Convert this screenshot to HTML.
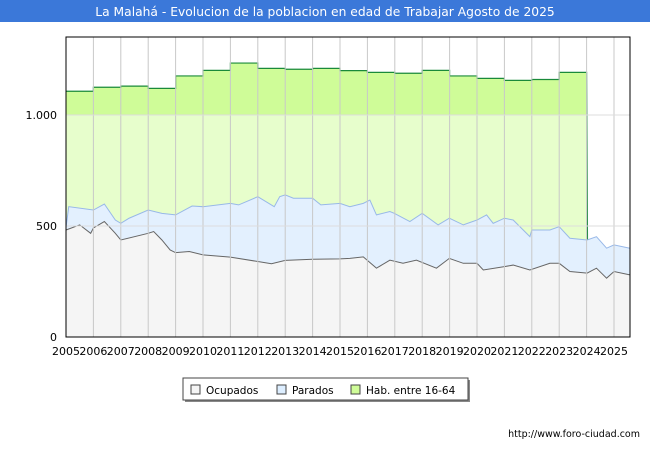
<!DOCTYPE html>
<html><head><meta charset="utf-8"><style>
body{margin:0;width:650px;height:450px;background:#fff;font-family:"DejaVu Sans","Liberation Sans",sans-serif;overflow:hidden}
svg text{font-family:"DejaVu Sans","Liberation Sans",sans-serif}
</style></head><body>
<svg width="650" height="450" xmlns="http://www.w3.org/2000/svg" id="chart">
<rect x="0" y="0" width="650" height="22" fill="#3b78d9"/>
<text x="325" y="16" fill="#fff" font-size="12.3" text-anchor="middle">La Malahá - Evolucion de la poblacion en edad de Trabajar Agosto de 2025</text>
<g id="plot"></g>
<g>
<rect x="185" y="380" width="285" height="22" fill="#888"/>
<rect x="183" y="378" width="285" height="22" fill="#fff" stroke="#444"/>
<rect x="191" y="385" width="9" height="9" fill="#f5f5f5" stroke="#444"/>
<text x="206" y="394" font-size="10.5">Ocupados</text>
<rect x="277" y="385" width="9" height="9" fill="#ddeeff" stroke="#444"/>
<text x="292" y="394" font-size="10.5">Parados</text>
<rect x="351" y="385" width="9" height="9" fill="#cffc98" stroke="#444"/>
<text x="366" y="394" font-size="10.5">Hab. entre 16-64</text>
</g>
<text x="640" y="437" font-size="9.5" text-anchor="end">http://www.foro-ciudad.com</text>
</svg>
<script>
const habYears=[2005,2006,2007,2008,2009,2010,2011,2012,2013,2014,2015,2016,2017,2018,2019,2020,2021,2022,2023];
const habValues=[1107,1125,1130,1120,1176,1201,1234,1210,1206,1210,1200,1192,1188,1201,1176,1165,1156,1160,1192];
const totYears=[2005.0,2005.1,2006.0,2006.4,2006.8,2007.0,2007.3,2008.0,2008.5,2009.0,2009.6,2010.0,2011.0,2011.3,2012.0,2012.6,2012.8,2013.0,2013.3,2014.0,2014.3,2015.0,2015.36,2015.85,2016.09,2016.33,2016.82,2016.98,2017.55,2018.0,2018.58,2018.99,2019.5,2020.0,2020.35,2020.59,2021.0,2021.32,2021.93,2022.0,2022.66,2023.0,2023.39,2024.02,2024.36,2024.73,2025.0,2025.58];
const totValues=[493,587,572,599,527,512,535,572,557,550,590,587,602,595,632,587,632,640,625,625,595,602,587,602,617,550,565,557,520,557,505,535,505,527,550,512,535,527,452,482,482,497,445,437,452,400,415,400];
const ocuYears=[2005.0,2005.5,2005.9,2006.0,2006.4,2006.8,2007.0,2008.0,2008.2,2008.5,2008.8,2009.0,2009.5,2010.0,2011.0,2012.0,2012.5,2013.0,2014.0,2015.0,2015.36,2015.85,2016.33,2016.82,2017.3,2017.79,2018.52,2018.99,2019.5,2020.0,2020.23,2021.0,2021.32,2021.93,2022.66,2023.0,2023.39,2024.02,2024.36,2024.73,2025.0,2025.58];
const ocuValues=[482,505,467,491,520,467,437,467,475,437,392,380,385,370,360,340,330,345,350,352,354,361,310,346,332,346,310,354,332,332,302,317,324,302,332,332,295,288,310,265,295,280];
const yTicks=[0,500,1000];
const yTickLabels=["0","500","1.000"];
const xTicks=[2005,2006,2007,2008,2009,2010,2011,2012,2013,2014,2015,2016,2017,2018,2019,2020,2021,2022,2023,2024,2025];

const L=66,R=630,T=37,B=337,X0=2005,XW=27.4;
const xs=v=>L+(v-X0)*XW;
const ys=v=>B-v*0.222;
const NS="http://www.w3.org/2000/svg";
const plot=document.getElementById('plot');
function mk(tag,attrs){const e=document.createElementNS(NS,tag);for(const k in attrs)e.setAttribute(k,attrs[k]);plot.appendChild(e);return e;}

let hp=[];
habYears.forEach((y,i)=>{hp.push([xs(y),ys(habValues[i])]);hp.push([xs(y+1),ys(habValues[i])]);});
let habLine=hp.map(p=>p.join(',')).join(' ')+' '+xs(2024.05)+','+ys(0);
let e=mk('polygon',{points:xs(2005)+','+ys(0)+' '+habLine,fill:'#cffc98'});


mk('rect',{x:L,y:ys(1000),width:R-L,height:B-ys(1000),fill:'#fff','fill-opacity':'0.5'});
e=mk('polyline',{points:habLine,fill:'none',stroke:'#1a8a3a','stroke-width':1.2});


let tl=totYears.map((y,i)=>xs(y)+','+ys(totValues[i])).join(' ');
e=mk('polygon',{points:xs(X0)+','+ys(0)+' '+tl+' '+xs(totYears[totYears.length-1])+','+ys(0),fill:'#e3f0fe'});


e=mk('polyline',{points:tl,fill:'none',stroke:'#98b8e8','stroke-width':1});


let ol=ocuYears.map((y,i)=>xs(y)+','+ys(ocuValues[i])).join(' ');
e=mk('polygon',{points:xs(X0)+','+ys(0)+' '+ol+' '+xs(ocuYears[ocuYears.length-1])+','+ys(0),fill:'#f5f5f5'});


e=mk('polyline',{points:ol,fill:'none',stroke:'#666','stroke-width':1});


xTicks.forEach(t=>{
 if(t>X0){const g=mk('line',{x1:xs(t),x2:xs(t),y1:T,y2:B,stroke:'#c8c8c8','stroke-width':1});
 
 }
 const tx=mk('text',{x:xs(t),y:355,'font-size':11,'text-anchor':'middle'});tx.textContent=t;
 
 
});
yTicks.forEach((t,i)=>{
 if(t>0){const g=mk('line',{x1:L,x2:R,y1:ys(t),y2:ys(t),stroke:'#ddd','stroke-width':1});
 
 }
 const tx=mk('text',{x:57,y:ys(t)+4,'font-size':11,'text-anchor':'end'});tx.textContent=yTickLabels[i];
 
 
});
e=mk('rect',{x:L,y:T,width:R-L,height:B-T,fill:'none',stroke:'#000','stroke-width':1});


</script>
</body></html>
